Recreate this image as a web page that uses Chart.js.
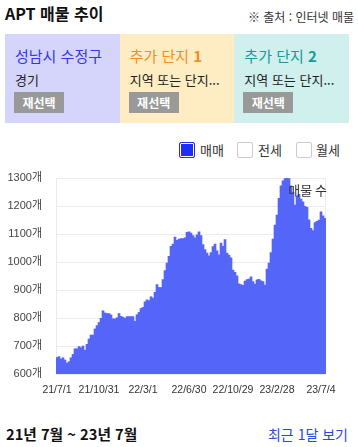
<!DOCTYPE html>
<html lang="ko">
<head>
<meta charset="utf-8">
<title>APT 매물 추이</title>
<script src="https://cdn.jsdelivr.net/npm/chart.js@4.4.0/dist/chart.umd.min.js"></script>
<style>
  body { margin: 0; width: 358px; height: 447px; position: relative; background: #fff;
         font-family: "Noto Sans CJK KR", "Noto Sans", sans-serif; color: #222; overflow: hidden; }
  .title { position: absolute; left: 5px; top: 1px; font-size: 16px; font-weight: bold; color: #111; }
  .source { position: absolute; right: 4px; top: 8px; font-size: 12px; color: #333; }
  .cards { position: absolute; left: 5px; top: 34px; width: 344px; height: 89px; display: flex; }
  .card { flex: 1; position: relative; padding-left: 10px; box-sizing: border-box; overflow: hidden; }
  .card .name { position: absolute; left: 10px; top: 11px; font-size: 15px; white-space: nowrap; }
  .card .sub { position: absolute; left: 10px; top: 36px; font-size: 13px; color: #222; white-space: nowrap; }
  .card .btn { position: absolute; left: 9px; top: 58px; width: 50px; height: 21px; background: #999;
               color: #fff; font-size: 12px; font-weight: bold; line-height: 21px; text-align: center; }
  .legend { position: absolute; top: 142px; left: 179px; font-size: 13px; color: #333; }
  .legend span.box { position: absolute; top: 0; width: 14px; height: 14px; border: 1px solid #c9cad3;
                     border-radius: 2px; background: #fff; }
  .legend span.box.on { border-color: #1d2ff0; background: #1d2ff0; box-shadow: inset 0 0 0 1px #fff; }
  .legend span.txt { position: absolute; top: -2px; white-space: nowrap; }
  #wrap { position: absolute; left: 0; top: 160px; width: 340px; height: 240px; }
  .range { position: absolute; left: 6px; top: 423px; font-size: 14.7px; font-weight: 600; color: #111; }
  .recent { position: absolute; right: 10px; top: 424px; font-size: 14px; color: #2a46e0; }
</style>
</head>
<body>
<div class="title">APT 매물 추이</div>
<div class="source">※ 출처 : 인터넷 매물</div>

<div class="cards">
  <div class="card" style="background:#d5d5fb">
    <div class="name" style="color:#3535ee">성남시 수정구</div>
    <div class="sub">경기</div>
    <div class="btn">재선택</div>
  </div>
  <div class="card" style="background:#feedc3">
    <div class="name" style="color:#f58d1b">추가 단지 <b>1</b></div>
    <div class="sub">지역 또는 단지...</div>
    <div class="btn">재선택</div>
  </div>
  <div class="card" style="background:#d0f0ee">
    <div class="name" style="color:#179a9a">추가 단지 <b>2</b></div>
    <div class="sub">지역 또는 단지...</div>
    <div class="btn">재선택</div>
  </div>
</div>

<div class="legend">
  <span class="box on" style="left:0"></span><span class="txt" style="left:21px">매매</span>
  <span class="box" style="left:58px"></span><span class="txt" style="left:79px">전세</span>
  <span class="box" style="left:117px"></span><span class="txt" style="left:137px">월세</span>
</div>

<div id="wrap"><canvas id="chart"></canvas></div>

<div class="range">21년 7월 ~ 23년 7월</div>
<div class="recent">최근 1달 보기</div>

<script>
// 매매 매물 수 (about every 5-6 days)
const listings = [
    659, 662, 654, 658, 650, 639, 644, 658, 670, 690, 690, 698, 694, 700, 685, 706, 725,
    739, 739, 761, 773, 784, 799, 826, 818, 816, 816, 811, 797, 797, 801, 816, 806, 803,
    799, 805, 805, 805, 805, 788, 812, 820, 834, 838, 858, 865, 862, 876, 871, 892, 919,
    909, 909, 937, 969, 996, 1020, 1056, 1064, 1089, 1077, 1082, 1084, 1084, 1086, 1106, 1108, 1103,
    1094, 1086, 1097, 1108, 1094, 1062, 1044, 1032, 1022, 1034, 1055, 1064, 1040, 1026, 1068,
    1056, 1080, 1032, 1025, 1015, 971, 963, 951, 922, 919, 917, 932, 937, 939, 947, 930, 921, 936, 938,
    933, 930, 918, 975, 996, 1034, 1082, 1132, 1168, 1227, 1272, 1290, 1298, 1300, 1298, 1272,
    1249, 1203, 1236, 1242, 1225, 1215, 1199, 1195, 1151, 1120, 1112, 1141, 1145, 1150, 1179, 1165, 1156
];

// x axis labels and the bar they sit under
const tickLabels = ['21/7/1', '21/10/31', '22/3/1', '22/6/30', '22/10/29', '23/2/28', '23/7/4'];
const tickAt = [0, 21, 43, 66, 88, 110, 132];

const yMin = 600;
const yMax = 1300;
const yStep = 100;

const categories = listings.map((v, i) => i);

const tickFont = "'Liberation Sans', 'Noto Sans CJK KR', sans-serif";
Chart.defaults.font.family = "'Noto Sans CJK KR', 'Noto Sans', sans-serif";
Chart.defaults.color = '#333';

// light frame round the plot and the "매물 수" caption
const frame = {
    id: 'frame',
    beforeDatasetsDraw(chart) {
        const a = chart.chartArea;
        const ctx = chart.ctx;
        ctx.save();
        ctx.strokeStyle = '#ebebeb';
        ctx.lineWidth = 1;
        ctx.beginPath();
        ctx.moveTo(a.left + 0.5, a.bottom);
        ctx.lineTo(a.left + 0.5, a.top + 0.5);
        ctx.lineTo(a.right - 0.5, a.top + 0.5);
        ctx.lineTo(a.right - 0.5, a.bottom);
        ctx.stroke();
        ctx.restore();
    },
    afterDatasetsDraw(chart) {
        const a = chart.chartArea;
        const ctx = chart.ctx;
        ctx.save();
        ctx.font = "13px 'Noto Sans CJK KR', sans-serif";
        ctx.fillStyle = '#333';
        ctx.textAlign = 'right';
        ctx.textBaseline = 'middle';
        ctx.fillText('매물 수', a.right + 1, a.top + 12);
        ctx.restore();
    }
};

// no extra room for overflowing tick labels; the layout padding sets the plot box
function noOverflow(s) {
    s.paddingLeft = 0;
    s.paddingRight = 0;
    s.paddingTop = 0;
    s.paddingBottom = 0;
}

new Chart(document.getElementById('chart'), {
    type: 'bar',
    data: {
        labels: categories,
        datasets: [{
            label: '매물 수',
            data: listings,
            backgroundColor: '#5566f9',
            borderWidth: 0,
            barPercentage: 1,
            categoryPercentage: 1
        }]
    },
    plugins: [frame],
    options: {
        responsive: true,
        maintainAspectRatio: false,
        animation: false,
        layout: { padding: { top: 18, right: 14, left: 0, bottom: 0 } },
        plugins: { legend: { display: false }, tooltip: { enabled: false } },
        scales: {
            x: {
                grid: { display: false, drawTicks: false },
                border: { display: false },
                ticks: {
                    autoSkip: false,
                    maxRotation: 0,
                    padding: 10,
                    font: { size: 10.5, family: tickFont },
                    callback: (v, i) => {
                        const k = tickAt.indexOf(i);
                        return k >= 0 ? tickLabels[k] : null;
                    }
                },
                afterFit: s => { s.height = 26; noOverflow(s); }
            },
            y: {
                min: yMin,
                max: yMax,
                grid: { color: '#ebebeb', drawTicks: false },
                border: { color: '#ebebeb' },
                ticks: {
                    stepSize: yStep,
                    padding: 14,
                    color: '#444',
                    font: { size: 11, family: tickFont },
                    callback: v => v + '개'
                },
                afterFit: s => { s.width = 56; noOverflow(s); }
            }
        }
    }
});
</script>
</body>
</html>
